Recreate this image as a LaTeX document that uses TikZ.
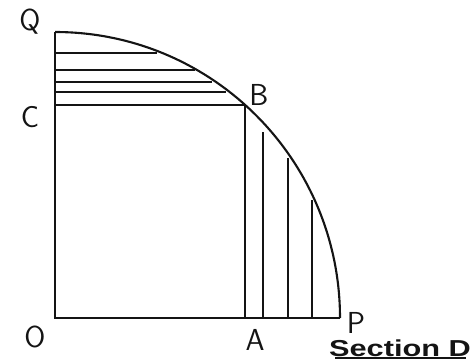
\documentclass[tikz,border=0pt]{standalone}
\usepackage{fontspec}
\usepackage{graphicx}
\usepackage{tikz}
\usetikzlibrary{positioning}
\newfontfamily\secfont{Liberation Sans}
\definecolor{ink}{RGB}{20,20,20}
\tikzset{
  curve/.style={draw=ink,line width=1.2pt},
  hatch/.style={draw=ink,line width=1.2pt},
  plab/.style={font=\sffamily\LARGE,text=ink,inner sep=0pt},
  seclab/.style={font=\secfont\fontsize{17.5}{19}\selectfont\bfseries,text=ink,inner sep=0pt}
}
\begin{document}
\begin{tikzpicture}[x=0.02cm,y=0.02cm]
    \useasboundingbox (0,0) rectangle (474,363);
    \coordinate (O) at (55,45);
    \coordinate (Q) at (55,331);
    \coordinate (P) at (340,45);
    \coordinate (A) at (245,45);
    \coordinate (B) at (245,258);
    \coordinate (C) at (55,258);
    % frontier curve and axes
    \draw[curve] (Q) arc[start angle=90,end angle=0,x radius=285,y radius=286];
    \draw[curve] (Q) -- (O) -- (P);
    \draw[curve] (C) -- (B) -- (A);
    % horizontal strips above C
    \foreach \yy/\xe in {310/157, 293/195, 281/212, 271/226}
      \draw[hatch] (55,\yy) -- (\xe,\yy);
    % vertical strips right of A
    \foreach \xx/\ye in {263/231, 288/205, 312/163}
      \draw[hatch] (\xx,45) -- (\xx,\ye);
    % labels
    \node[plab] (lQ) at (30,341) {Q};
    \node[plab] (lC) at (30,246) {C};
    \node[plab] (lB) at (259,268) {B};
    \node[plab] (lO) at (35,26) {O};
    \node[plab] (lA) at (255,23) {A};
    \node[plab] (lP) at (356,40) {P};
    \node[seclab] (sec) at (400,15) {\scalebox{1}[0.75]{Section D}};
    \draw[ink,line width=1pt] (335,5) -- (466,5);
\end{tikzpicture}
\end{document}
